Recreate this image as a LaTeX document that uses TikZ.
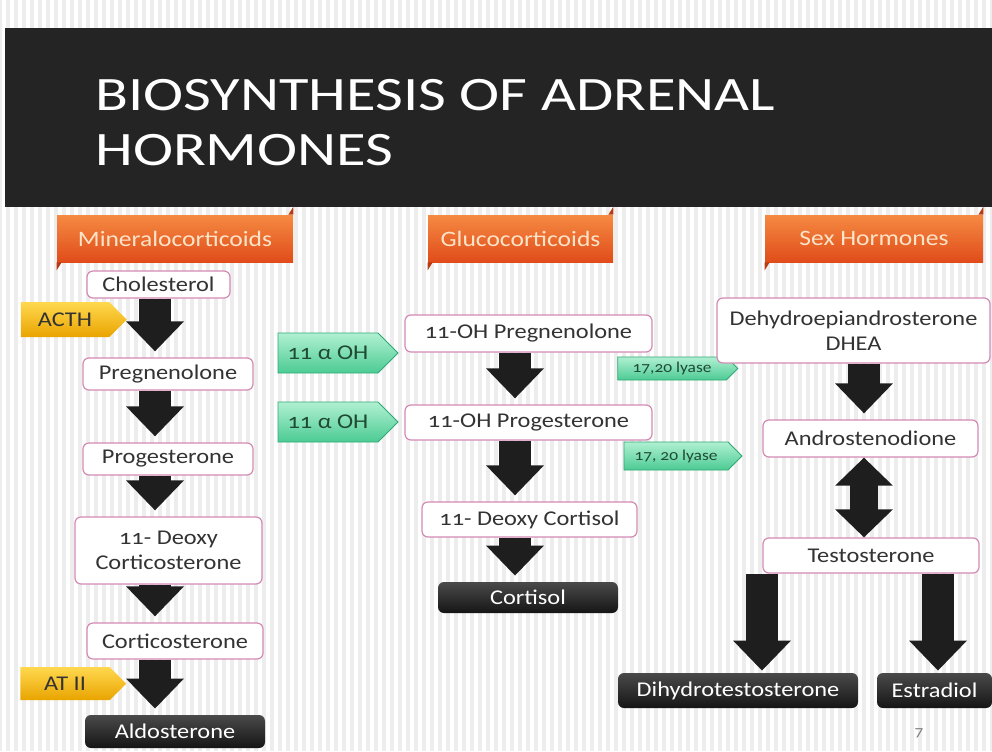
\documentclass[tikz,border=0pt]{standalone}
\usepackage{fontspec}
\setmainfont{Carlito}[Numbers=OldStyle, FakeStretch=1.16]
\newfontfamily\titlefamily{Carlito}[FakeStretch=1.26]
\usepackage{tikz}
\usetikzlibrary{arrows.meta, shapes.symbols, positioning}

\definecolor{slate}{HTML}{242424}
\definecolor{paper}{HTML}{EDEDED}
\definecolor{boxpink}{HTML}{D48AB4}
\definecolor{inkgray}{HTML}{333333}
\definecolor{darktop}{HTML}{4A4A4A}
\definecolor{darkbottom}{HTML}{151515}
\definecolor{tabtop}{HTML}{F58A42}
\definecolor{tabbottom}{HTML}{E04C1A}
\definecolor{tabfold}{HTML}{B83A12}
\definecolor{tabtext}{HTML}{FDE4C8}
\definecolor{greentop}{HTML}{B0F0D2}
\definecolor{greenbottom}{HTML}{4CCB94}
\definecolor{greenedge}{HTML}{2FA874}
\definecolor{greentext}{HTML}{1F4A33}
\definecolor{goldtop}{HTML}{FFD84F}
\definecolor{goldbottom}{HTML}{E9A400}
\definecolor{arrowblack}{HTML}{1E1E1E}

\newcommand{\hormonefont}{\fontsize{10.5}{12.5}\selectfont}
\newcommand{\tabfont}{\fontsize{11}{13}\selectfont}
\newcommand{\titlefont}{\titlefamily\fontsize{24}{27.5}\selectfont}
\newcommand{\lyasefont}{\fontsize{7.5}{9}\selectfont}

\tikzset{%
  hormone/.style={rectangle, draw=boxpink, line width=0.6pt, fill=white, rounded corners=3pt, text=inkgray, font=\hormonefont, align=center, inner sep=1pt},
  endproduct/.style={rectangle, rounded corners=3pt, top color=darktop, bottom color=darkbottom, text=white, font=\hormonefont, inner sep=1pt},
  grouptab/.style={rectangle, top color=tabtop, bottom color=tabbottom, text=tabtext, font=\tabfont, inner sep=1pt},
  enzymetag/.style={signal, signal to=east, draw=greenedge, line width=0.4pt, top color=greentop, bottom color=greenbottom, text=greentext, font=\hormonefont, inner sep=1pt},
  triggertag/.style={signal, signal to=east, top color=goldtop, bottom color=goldbottom, text=inkgray, font=\hormonefont, inner sep=1pt},
  boxsize/.style 2 args={minimum width=#1*0.5pt, minimum height=#2*0.5pt},
  bigarrow/.style={draw=arrowblack, line width=16pt, -{Triangle[width=28pt, length=15pt]}, shorten >=3pt},
  twoarrow/.style={draw=arrowblack, line width=14pt, {Triangle[width=28pt, length=14pt]}-{Triangle[width=28pt, length=14pt]}}}

\begin{document}
\begin{tikzpicture}[x=0.5pt, y=-0.5pt]
    \useasboundingbox (0, 0) rectangle (992, 751);
    \fill [paper] (0, 0) rectangle (992, 751);
    \foreach \x in {2, 10, ..., 992} {
      \fill [white] (\x, 0) rectangle (\x + 4, 751);
    }
    \fill [slate] (5, 28) rectangle (992, 207);
    \node [anchor=north west, inner sep=0pt, align=left, text=white, font=\titlefont] (title) at (95, 79) {BIOSYNTHESIS OF ADRENAL\\HORMONES};

    % group headers
    \node [grouptab, boxsize={236}{47}] (mineral) at (175, 238.5) {Mineralocorticoids};
    \node [grouptab, boxsize={185}{47}] (gluco) at (520.5, 238.5) {Glucocorticoids};
    \node [grouptab, boxsize={218}{47}] (sex) at (874, 238.5) {Sex Hormones};
    \foreach \t in {mineral, gluco, sex} {
      \fill [tabfold] (\t.north east) -- ++(0, -8) -- ++(-5, 8) -- cycle;
      \fill [tabfold] (\t.south west) -- ++(0, 8) -- ++(5, -8) -- cycle;
    }

    % mineralocorticoids
    \coordinate (minaxis) at (155, 0);
    \node [hormone, boxsize={143}{27}] (cholesterol) at (158.5, 284.5) {Cholesterol};
    \node [hormone, boxsize={170}{32}] (pregnenolone) at (168, 374) {Pregnenolone};
    \node [hormone, boxsize={170}{32}] (progesterone) at (168, 459) {Progesterone};
    \node [hormone, boxsize={187}{67}] (deoxycortico) at (168.5, 550.5) {11- Deoxy\\Corticosterone};
    \node [hormone, boxsize={176}{36}] (corticosterone) at (175, 641) {Corticosterone};
    \node [endproduct, boxsize={180}{33}] (aldosterone) at (175, 731.5) {Aldosterone};
    \node [triggertag, boxsize={106}{35}] (acth) at (65, 319.5) {ACTH};
    \node [triggertag, boxsize={106}{33}] (at2) at (65, 683.5) {AT II};

    \path [bigarrow] (cholesterol.south -| minaxis) -- (pregnenolone.north -| minaxis);
    \path [bigarrow] (pregnenolone.south -| minaxis) -- (progesterone.north -| minaxis);
    \path [bigarrow] (progesterone.south -| minaxis) -- (deoxycortico.north -| minaxis);
    \path [bigarrow] (deoxycortico.south -| minaxis) -- (corticosterone.north -| minaxis);
    \path [bigarrow] (corticosterone.south -| minaxis) -- (aldosterone.north -| minaxis);

    % glucocorticoids
    \coordinate (glucaxis) at (515, 0);
    \node [hormone, boxsize={247}{37}] (ohpreg) at (528.5, 333.5) {11-OH Pregnenolone};
    \node [hormone, boxsize={247}{35}] (ohprog) at (528.5, 422.5) {11-OH Progesterone};
    \node [hormone, boxsize={215}{35}] (deoxycortisol) at (529.5, 519.5) {11- Deoxy Cortisol};
    \node [endproduct, boxsize={180}{31}] (cortisol) at (528, 597.5) {Cortisol};
    \node [enzymetag, boxsize={120}{40}] (alpha1) at (328, 353) {11 α OH};
    \node [enzymetag, boxsize={120}{40}] (alpha2) at (328, 422) {11 α OH};
    \node [enzymetag, font=\lyasefont, boxsize={120}{23}] (lyase1) at (672, 368.5) {17,20 lyase};
    \node [enzymetag, font=\lyasefont, boxsize={118}{28}] (lyase2) at (676, 456) {17, 20 lyase};

    \path [bigarrow] (ohpreg.south -| glucaxis) -- (ohprog.north -| glucaxis);
    \path [bigarrow] (ohprog.south -| glucaxis) -- (deoxycortisol.north -| glucaxis);
    \path [bigarrow] (deoxycortisol.south -| glucaxis) -- (cortisol.north -| glucaxis);

    % sex hormones
    \coordinate (sexaxis) at (864, 0);
    \coordinate (dhtaxis) at (762, 0);
    \coordinate (estraxis) at (938, 0);
    \node [hormone, boxsize={273}{65}] (dhea) at (853.5, 330.5) {Dehydroepiandrosterone\\DHEA};
    \node [hormone, boxsize={215}{37}] (andro) at (870.5, 438.5) {Androstenodione};
    \node [hormone, boxsize={216}{35}] (testo) at (871, 555.5) {Testosterone};
    \node [endproduct, boxsize={240}{35}] (dht) at (738, 690.5) {Dihydrotestosterone};
    \node [endproduct, boxsize={115}{35}] (estradiol) at (934.5, 690.5) {Estradiol};

    \path [bigarrow] (dhea.south -| sexaxis) -- (andro.north -| sexaxis);
    \path [twoarrow] (andro.south -| sexaxis) -- (testo.north -| sexaxis);
    \path [bigarrow, shorten >=1pt] (testo.south -| dhtaxis) -- (dht.north -| dhtaxis);
    \path [bigarrow, shorten >=1pt] (testo.south -| estraxis) -- (estradiol.north -| estraxis);

    \node [text=gray, font=\lyasefont] (pagenum) at (919, 733) {7};
\end{tikzpicture}
\end{document}
